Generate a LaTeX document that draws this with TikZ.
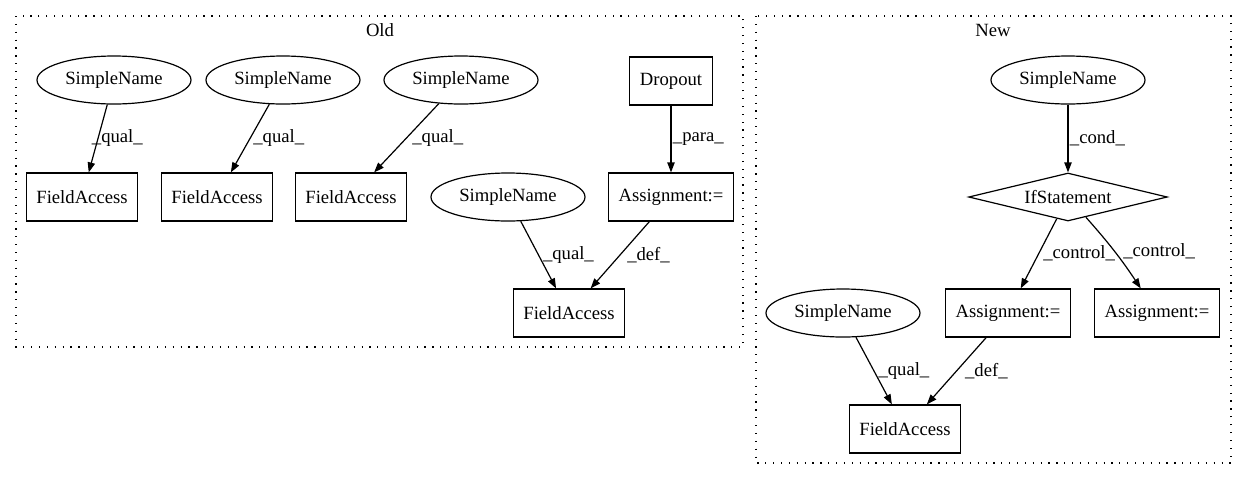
\documentclass[tikz,border=0pt]{standalone}
\usepackage{fontspec}
\setmainfont{Liberation Serif}
\usetikzlibrary{shapes.geometric,arrows.meta}
\tikzset{
  every node/.style={font=\fontsize{14pt}{16pt}\selectfont, inner sep=0pt},
  sname/.style={ellipse, draw, minimum width=115.5pt, minimum height=36pt},
  fabox/.style={rectangle, draw, minimum width=83pt, minimum height=36pt},
  asgbox/.style={rectangle, draw, minimum width=94pt, minimum height=36pt},
  ifnode/.style={diamond, draw, shape aspect=4.2, minimum width=149pt, minimum height=36pt},
  elbl/.style={midway, anchor=west, inner sep=1pt},
  cluster/.style={line width=0.9pt, dash pattern=on 0.9pt off 5pt},
  edge/.style={-{Triangle[length=7.5pt,width=5.5pt]}}
}

\begin{document}
\begin{tikzpicture}[x=0.75pt, y=-0.75pt, line width=0.9pt]
    \useasboundingbox (0,0) rectangle (1247,480);
    % clusters
    \draw[cluster] (16,16) rectangle (743,347);
    \node at (380,30) {Old};
    \draw[cluster] (756,16) rectangle (1231,463);
    \node at (993,30) {New};
    % old version
    \node[sname] (sn1) at (114,80) {SimpleName};
    \node[sname] (sn2) at (283,80) {SimpleName};
    \node[sname] (sn3) at (461,80) {SimpleName};
    \node[fabox] (fa1) at (82,197) {FieldAccess};
    \node[fabox] (fa2) at (217,197) {FieldAccess};
    \node[fabox] (fa3) at (351,197) {FieldAccess};
    \node[rectangle, draw, minimum width=62pt, minimum height=36pt] (drop) at (671,81) {Dropout};
    \node[asgbox] (asg) at (671,197) {Assignment:=};
    \node[sname] (sn4) at (508,197) {SimpleName};
    \node[fabox] (fa4) at (569,313) {FieldAccess};
    \draw[edge] (sn1) -- (fa1) node[elbl, xshift=-6pt] {\_qual\_};
    \draw[edge] (sn2) -- (fa2) node[elbl, xshift=1pt] {\_qual\_};
    \draw[edge] (sn3) -- (fa3) node[elbl, xshift=3pt] {\_qual\_};
    \draw[edge] (drop) -- (asg) node[elbl] {\_para\_};
    \draw[edge] (sn4) -- (fa4) node[elbl, xshift=2pt] {\_qual\_};
    \draw[edge] (asg) -- (fa4) node[elbl, xshift=4pt] {\_def\_};
    % new version
    \node[sname] (sn5) at (1068,80) {SimpleName};
    \node[ifnode] (ifst) at (1068,197) {IfStatement};
    \node[asgbox] (asga) at (1008,313) {Assignment:=};
    \node[asgbox] (asgb) at (1157,313) {Assignment:=};
    \node[sname] (sn6) at (843,313) {SimpleName};
    \node[fabox] (fa5) at (905,429) {FieldAccess};
    \draw[edge] (sn5) -- (ifst) node[elbl] {\_cond\_};
    \draw[edge] (ifst) -- (asga) node[elbl, xshift=2pt] {\_control\_};
    \draw[edge] (ifst) to[bend left=4] node[elbl, xshift=5pt] {\_control\_} (asgb);
    \draw[edge] (sn6) -- (fa5) node[elbl, xshift=2pt] {\_qual\_};
    \draw[edge] (asga) -- (fa5) node[elbl, xshift=5pt] {\_def\_};
\end{tikzpicture}
\end{document}
